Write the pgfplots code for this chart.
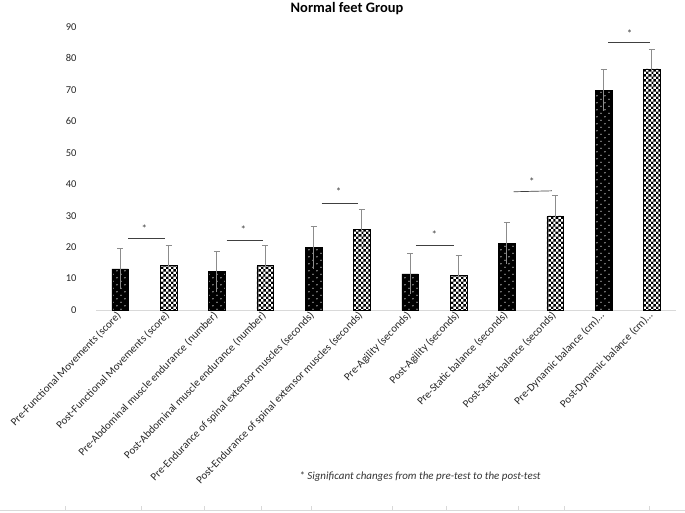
\documentclass[border=0pt]{standalone}
\usepackage{pgfplots}
\pgfplotsset{compat=1.18}
\usepackage{fontspec}
\setmainfont{Carlito}
\usetikzlibrary{patterns.meta}

% checkerboard for the post-test bars, sparse dots for the pre-test bars
\pgfdeclarepattern{name=checks, type=uncolored,
  bottom left={\pgfpointorigin}, top right={\pgfpoint{5.4pt}{5.4pt}},
  tile size={\pgfpoint{5.4pt}{5.4pt}},
  code={\pgfpathrectangle{\pgfpointorigin}{\pgfpoint{2.7pt}{2.7pt}}
        \pgfpathrectangle{\pgfpoint{2.7pt}{2.7pt}}{\pgfpoint{2.7pt}{2.7pt}}
        \pgfusepath{fill}}}
\pgfdeclarepattern{name=sparsedots, type=uncolored,
  bottom left={\pgfpointorigin}, top right={\pgfpoint{8pt}{7pt}},
  tile size={\pgfpoint{8pt}{7pt}},
  code={\pgfpathcircle{\pgfpoint{2pt}{1.75pt}}{0.7pt}
        \pgfpathcircle{\pgfpoint{6pt}{5.25pt}}{0.7pt}
        \pgfusepath{fill}}}

\definecolor{errgray}{HTML}{8C8C8C}
\definecolor{axgray}{HTML}{D9D9D9}

\pgfplotstableread{
x  y     e
0  13.1  6.4
1  14.1  6.4
2  12.2  6.5
3  14.1  6.4
4  19.9  6.8
5  25.7  6.3
6  11.5  6.4
7  11.1  6.4
8  21.2  6.7
9  29.9  6.7
10 69.9  6.7
11 76.7  6.3
}\errtable

\begin{document}
\begin{tikzpicture}
\path[use as bounding box] (0,0) rectangle (685bp,513bp);

\begin{axis}[
  at={(96bp,203bp)}, anchor=south west,
  scale only axis, width=580bp, height=283bp,
  xmin=-0.5, xmax=11.5, ymin=0, ymax=90,
  ytick={0,10,...,90},
  xtick={0,...,11},
  xticklabels={{Pre-Functional Movements (score)},
               {Post-Functional Movements (score)},
               {Pre-Abdominal muscle endurance (number)},
               {Post-Abdominal muscle endurance (number)},
               {Pre-Endurance of spinal extensor muscles (seconds)},
               {Post-Endurance of spinal extensor muscles (seconds)},
               {Pre-Agility (seconds)},
               {Post-Agility (seconds)},
               {Pre-Static balance (seconds)},
               {Post-Static balance (seconds)},
               {Pre-Dynamic balance (cm)\ldots},
               {Post-Dynamic balance (cm)\ldots}},
  axis x line=bottom, axis y line=left,
  x axis line style={draw=axgray, line width=0.8pt, -},
  y axis line style={draw=none},
  major tick length=0pt,
  x tick label style={rotate=46, anchor=east, font=\fontsize{11}{12}\selectfont, yshift=-2bp, text=black!85},
  y tick label style={anchor=east, xshift=-16bp, font=\fontsize{10.5}{12}\selectfont, text=black!85},
  /pgf/number format/assume math mode=true,
  clip=false,
]
% pre-test bars
\addplot[ybar, bar width=16.5bp, bar shift=0pt, draw=black, fill=black,
  postaction={pattern={sparsedots}, pattern color=white}]
  table[x=x, y=y] {
x  y
0  13.1
2  12.2
4  19.9
6  11.5
8  21.2
10 69.9
};
% post-test bars
\addplot[ybar, bar width=16.5bp, bar shift=0pt, draw=black, fill=white,
  postaction={pattern={checks}, pattern color=black}]
  table[x=x, y=y] {
x  y
1  14.1
3  14.1
5  25.7
7  11.1
9  29.9
11 76.7
};
% error bars: capped upper half, plain lower half
\addplot[draw=none, mark=none, forget plot,
  error bars/.cd, y dir=plus, y explicit,
  error bar style={errgray, line width=0.7pt},
  error mark options={errgray, rotate=90, mark size=3bp, line width=0.7pt}]
  table[x=x, y=y, y error=e] {\errtable};
\addplot[draw=none, mark=none, forget plot,
  error bars/.cd, y dir=minus, y explicit, error mark=none,
  error bar style={errgray, line width=0.7pt}]
  table[x=x, y=y, y error=e] {\errtable};
% significance brackets
\addplot[black!75, line width=0.7pt] coordinates {(0.17,22.9) (0.93,22.9)};
\addplot[black!75, line width=0.7pt] coordinates {(2.2,22.0) (2.95,22.0)};
\addplot[black!75, line width=0.7pt] coordinates {(4.17,34.0) (4.92,34.0)};
\addplot[black!75, line width=0.7pt] coordinates {(6.12,20.5) (6.9,20.5)};
\addplot[black!75, line width=0.7pt] coordinates {(8.14,37.6) (8.93,37.9)};
\addplot[black!75, line width=0.7pt] coordinates {(10.1,85.0) (10.97,85.0)};
\node[font=\fontsize{11}{12}\selectfont, text=black!75] at (axis cs:0.5,26.0) {*};
\node[font=\fontsize{11}{12}\selectfont, text=black!75] at (axis cs:2.55,25.7) {*};
\node[font=\fontsize{11}{12}\selectfont, text=black!75] at (axis cs:4.52,37.5) {*};
\node[font=\fontsize{11}{12}\selectfont, text=black!75] at (axis cs:6.5,24.1) {*};
\node[font=\fontsize{11}{12}\selectfont, text=black!75] at (axis cs:8.52,40.9) {*};
\node[font=\fontsize{11}{12}\selectfont, text=black!75] at (axis cs:10.54,88.0) {*};
\end{axis}

\node[font=\bfseries\fontsize{14.5}{16}\selectfont] at (347bp,504bp) {Normal feet Group};
\node[font=\itshape\fontsize{11}{12}\selectfont, text=black!80] at (420bp,36bp)
  {* Significant changes from the pre-test to the post-test};
\draw[axgray, line width=0.6pt] (0,3bp) -- (685bp,3bp);
\foreach \sx in {65,141,204,261,311,392,446,518,564,649}
  \draw[axgray, line width=0.6pt] (\sx bp,3bp) -- (\sx bp,7bp);
\end{tikzpicture}
\end{document}
